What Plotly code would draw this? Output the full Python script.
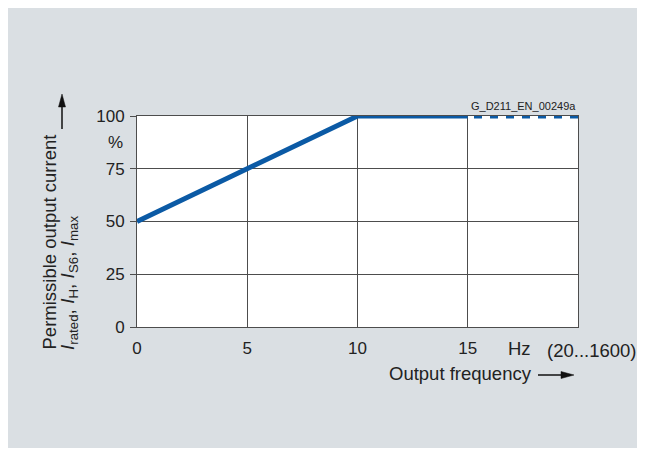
import plotly.graph_objects as go

# ---- data ----
freq_solid = [0, 10, 15]
current_solid = [50, 100, 100]
freq_dotted = [20, 15]
current_dotted = [100, 100]
x_tick_vals = [0, 5, 10, 15]
x_tick_text = ["0", "5", "10", "15"]
y_tick_vals = [0, 25, 50, 75, 100]
y_tick_text = ["0", "25", "50", "75", "100"]

# page body has an 8px margin, so the figure is sized to fit inside the page
OFF = 8
W, H = 629, 440
# plot area in reference-page pixels: x 137..578, y 116..327
PX0, PX1, PY0, PY1 = 137, 578, 116, 327
L, T = PX0 - OFF, PY0 - OFF
R, B = W - (PX1 - OFF), H - (PY1 - OFF)
PW, PH = PX1 - PX0, PY1 - PY0

def px(xp):
    return (xp - PX0) / PW

def py(yp):
    return (PY1 - yp) / PH

BLUE = "#0b5aa5"
GRID = "#4d4d4d"
TXT = "#222222"
FONT = "Liberation Sans, Arial, sans-serif"
FS = 17
FT = 18.5

fig = go.Figure()
fig.add_trace(go.Scatter(x=freq_solid, y=current_solid, mode="lines",
                         line=dict(color=BLUE, width=5), cliponaxis=False,
                         hoverinfo="skip"))
fig.add_trace(go.Scatter(x=freq_dotted, y=current_dotted, mode="lines",
                         line=dict(color=BLUE, width=5, dash="8px,8px"),
                         cliponaxis=False, hoverinfo="skip"))

ann = []
ann.append(dict(x=px(125), y=py(142), xref="paper", yref="paper", text="%",
                showarrow=False, xanchor="right", yanchor="middle",
                font=dict(size=FS, color=TXT, family=FONT)))
ann.append(dict(x=px(519), y=py(348), xref="paper", yref="paper", text="Hz",
                showarrow=False, xanchor="center", yanchor="middle",
                font=dict(size=FT, color=TXT, family=FONT)))
ann.append(dict(x=px(591), y=py(350), xref="paper", yref="paper", text="(20...1600)",
                showarrow=False, xanchor="center", yanchor="middle",
                font=dict(size=FT, color=TXT, family=FONT)))
ann.append(dict(x=px(534), y=py(373), xref="paper", yref="paper", text="Output frequency",
                showarrow=False, xanchor="right", yanchor="middle",
                font=dict(size=FT, color=TXT, family=FONT)))
ann.append(dict(x=px(49), y=py(352), xref="paper", yref="paper",
                text="Permissible output current", textangle=-90,
                showarrow=False, xanchor="center", yanchor="bottom",
                font=dict(size=FT, color=TXT, family=FONT)))
ann.append(dict(x=px(69), y=py(352), xref="paper", yref="paper",
                text="<i>I</i><sub>rated</sub>, <i>I</i><sub>H</sub>, <i>I</i><sub>S6</sub>, <i>I</i><sub>max</sub>",
                textangle=-90, showarrow=False, xanchor="center", yanchor="bottom",
                font=dict(size=19, color=TXT, family=FONT)))
ann.append(dict(x=px(578), y=py(106), xref="paper", yref="paper", text="G_D211_EN_00249a",
                showarrow=False, xanchor="right", yanchor="middle",
                font=dict(size=11, color=TXT, family=FONT)))

ARROW = "#111111"
shapes = [
    dict(type="line", xref="paper", yref="paper", x0=px(538), x1=px(564), y0=py(375), y1=py(375),
         line=dict(color=ARROW, width=1.5)),
    dict(type="path", xref="paper", yref="paper",
         path=f"M {px(574)},{py(375)} L {px(561)},{py(371.5)} L {px(561)},{py(378.5)} Z",
         fillcolor=ARROW, line=dict(color=ARROW, width=0.5)),
    dict(type="line", xref="paper", yref="paper", x0=px(62), x1=px(62), y0=py(129), y1=py(104),
         line=dict(color=ARROW, width=1.5)),
    dict(type="path", xref="paper", yref="paper",
         path=f"M {px(62)},{py(94)} L {px(58.5)},{py(107)} L {px(65.5)},{py(107)} Z",
         fillcolor=ARROW, line=dict(color=ARROW, width=0.5)),
]

fig.update_layout(
    width=W, height=H,
    margin=dict(l=L, r=R, t=T, b=B, pad=0),
    paper_bgcolor="#dadfe3", plot_bgcolor="white",
    showlegend=False,
    annotations=ann, shapes=shapes,
    font=dict(family=FONT, size=FS, color=TXT),
    xaxis=dict(range=[0, 20], tickvals=x_tick_vals, ticktext=x_tick_text,
               showgrid=True, gridcolor=GRID, gridwidth=1, zeroline=False,
               showline=True, linecolor=GRID, linewidth=1, mirror=True,
               ticks="", ticklabelstandoff=6, fixedrange=True,
               tickfont=dict(size=FS, color=TXT, family=FONT)),
    yaxis=dict(range=[0, 100], tickvals=y_tick_vals, ticktext=y_tick_text,
               showgrid=True, gridcolor=GRID, gridwidth=1, zeroline=False,
               showline=True, linecolor=GRID, linewidth=1, mirror=True,
               ticks="outside", ticklen=6, tickcolor=GRID, ticklabelstandoff=2,
               fixedrange=True,
               tickfont=dict(size=FS, color=TXT, family=FONT)),
)

fig.write_html("out.html")
